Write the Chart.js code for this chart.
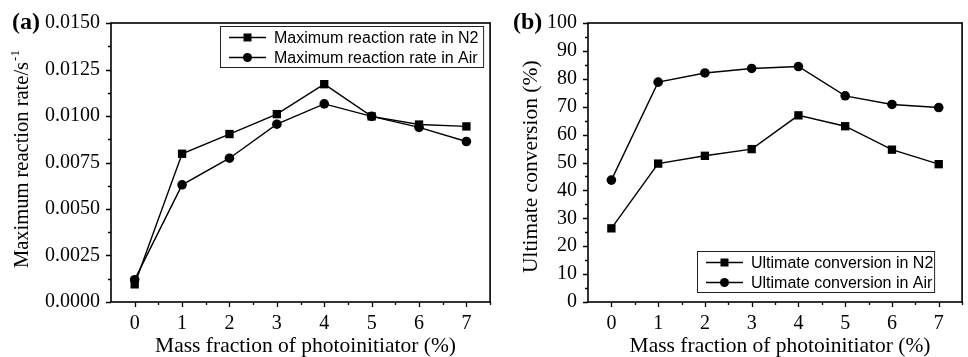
<!DOCTYPE html>
<html>
<head>
<meta charset="utf-8">
<script src="https://cdn.jsdelivr.net/npm/chart.js@4.4.1/dist/chart.umd.min.js"></script>
<style>
  body { margin: 0; background: #fff; }
  .painel { position: absolute; top: 0; }
</style>
</head>
<body>
<canvas id="graficoA" class="painel" width="496" height="357" style="left:0"></canvas>
<canvas id="graficoB" class="painel" width="472" height="357" style="left:496px"></canvas>
<script>
// valores
const fracoes = ["0", "1", "2", "3", "4", "5", "6", "7"];
const taxaN2 = [0.00095, 0.00797, 0.00903, 0.0101, 0.01171, 0.00998, 0.00954, 0.00944];
const taxaAr = [0.0012, 0.0063, 0.00773, 0.00956, 0.01065, 0.00998, 0.00939, 0.00863];
const conversaoN2 = [26.4, 49.6, 52.4, 54.8, 66.9, 63.0, 54.6, 49.4];
const conversaoAr = [43.7, 78.8, 82.1, 83.7, 84.4, 73.9, 70.8, 69.7];
const ticksTaxa = [0, 0.0025, 0.005, 0.0075, 0.01, 0.0125, 0.015];
const ticksConversao = [0, 10, 20, 30, 40, 50, 60, 70, 80, 90, 100];

const serif = '"Liberation Serif", "Times New Roman", serif';
const sans = '"Liberation Sans", Arial, sans-serif';

// desenha moldura, marcas, titulos e legenda
function decoracao(cfg) {
    return {
        id: "decoracao",
        afterDraw(chart) {
            const ctx = chart.ctx;
            const a = chart.chartArea;
            const xs = chart.scales.x;
            const ys = chart.scales.y;
            ctx.save();
            ctx.strokeStyle = "#000";
            ctx.fillStyle = "#000";

            // marcas do eixo y
            ctx.lineWidth = 1.3;
            ctx.beginPath();
            cfg.yTicks.forEach((v, i) => {
                const py = Math.round(ys.getPixelForValue(v)) + 0.5;
                ctx.moveTo(a.left, py);
                ctx.lineTo(a.left - 5, py);
                if (i < cfg.yTicks.length - 1) {
                    const pm = Math.round(ys.getPixelForValue((v + cfg.yTicks[i + 1]) / 2)) + 0.5;
                    ctx.moveTo(a.left, pm);
                    ctx.lineTo(a.left - 3, pm);
                }
            });
            // marcas do eixo x
            for (let i = 0; i < fracoes.length; i++) {
                const px = Math.round(xs.getPixelForValue(i)) + 0.5;
                ctx.moveTo(px, a.bottom);
                ctx.lineTo(px, a.bottom + 5);
                const pm = Math.round(xs.getPixelForValue(i + 0.5)) + 0.5;
                ctx.moveTo(pm, a.bottom);
                ctx.lineTo(pm, a.bottom + 3);
            }
            ctx.stroke();

            // moldura
            ctx.lineWidth = 1.6;
            ctx.strokeRect(a.left, a.top, a.right - a.left, a.bottom - a.top);

            // rotulo (a)/(b)
            ctx.font = "bold 24px " + serif;
            ctx.textAlign = "left";
            ctx.textBaseline = "alphabetic";
            ctx.fillText(cfg.rotulo, cfg.rotuloX, 29);

            // titulo x
            ctx.font = "21.5px " + serif;
            ctx.textAlign = "center";
            ctx.fillText("Mass fraction of photoinitiator (%)", (a.left + a.right) / 2 + 5, 352);

            // titulo y
            ctx.save();
            ctx.translate(cfg.tituloYX, cfg.tituloYBase);
            ctx.rotate(-Math.PI / 2);
            ctx.font = cfg.tituloYFonte + "px " + serif;
            ctx.textAlign = "left";
            ctx.fillText(cfg.tituloY, 0, 0);
            if (cfg.sobrescrito) {
                const w = ctx.measureText(cfg.tituloY).width;
                ctx.font = "13px " + serif;
                ctx.fillText(cfg.sobrescrito, w + 1, -9);
            }
            ctx.restore();

            // legenda
            const lx = a.left + 109;
            const lr = a.right - cfg.legDireita;
            const lt = cfg.legTopo(a);
            ctx.lineWidth = 1;
            ctx.strokeStyle = "#222";
            ctx.strokeRect(lx + 0.5, lt + 0.5, lr - lx, 41);
            ctx.font = "16px " + sans;
            ctx.textAlign = "left";
            ctx.textBaseline = "middle";
            chart.data.datasets.forEach((ds, i) => {
                const ry = lt + 11.5 + i * 20;
                ctx.strokeStyle = "#000";
                ctx.lineWidth = 1.3;
                ctx.beginPath();
                ctx.moveTo(lx + 9, ry);
                ctx.lineTo(lx + 46, ry);
                ctx.stroke();
                const mx = lx + 27.5;
                ctx.beginPath();
                if (ds.pointStyle === "rect") {
                    ctx.rect(mx - 4, ry - 4, 8, 8);
                } else {
                    ctx.arc(mx, ry, 4.5, 0, Math.PI * 2);
                }
                ctx.fill();
                ctx.fillText(ds.label, lx + 54, ry + 1);
            });
            ctx.restore();
        }
    };
}

function serie(rotulo, dados, estilo) {
    return {
        label: rotulo,
        data: dados,
        borderColor: "#000",
        backgroundColor: "#000",
        borderWidth: 1.4,
        pointStyle: estilo,
        pointRadius: estilo === "rect" ? 5.9 : 4.8,
        pointBorderWidth: 0,
        tension: 0
    };
}

function opcoes(yMax, yTicks, formato, padDireita, larguraY) {
    return {
        responsive: false,
        animation: false,
        devicePixelRatio: 1,
        layout: { padding: { top: 19, right: padDireita, left: 0, bottom: 0 } },
        plugins: { legend: { display: false }, tooltip: { enabled: false } },
        scales: {
            x: {
                offset: true,
                grid: { display: false, drawTicks: false },
                border: { display: false },
                ticks: { color: "#000", font: { family: serif, size: 20 }, padding: 10, maxRotation: 0 },
                afterFit: (s) => { s.height = 55; }
            },
            y: {
                min: 0,
                max: yMax,
                grid: { display: false, drawTicks: false },
                border: { display: false },
                ticks: { color: "#000", font: { family: serif, size: 20 }, padding: 11, callback: formato },
                afterBuildTicks: (s) => { s.ticks = yTicks.map(v => ({ value: v })); },
                afterFit: (s) => { s.width = larguraY; }
            }
        }
    };
}

new Chart(document.getElementById("graficoA"), {
    type: "line",
    data: {
        labels: fracoes,
        datasets: [
            serie("Maximum reaction rate in N2", taxaN2, "rect"),
            serie("Maximum reaction rate in Air", taxaAr, "circle")
        ]
    },
    options: opcoes(0.015, ticksTaxa, (v) => Number(v).toFixed(4), 5, 111),
    plugins: [decoracao({
        rotulo: "(a)", rotuloX: 12, yTicks: ticksTaxa,
        tituloY: "Maximum reaction rate/s", sobrescrito: "-1", tituloYFonte: 20.5, tituloYX: 28, tituloYBase: 268,
        legDireita: 7, legTopo: (a) => a.top + 3
    })]
});

new Chart(document.getElementById("graficoB"), {
    type: "line",
    data: {
        labels: fracoes,
        datasets: [
            serie("Ultimate conversion in N2", conversaoN2, "rect"),
            serie("Ultimate conversion in Air", conversaoAr, "circle")
        ]
    },
    options: opcoes(100, ticksConversao, (v) => String(v), 4, 92),
    plugins: [decoracao({
        rotulo: "(b)", rotuloX: 17, yTicks: ticksConversao,
        tituloY: "Ultimate conversion (%)", sobrescrito: "", tituloYFonte: 21.5, tituloYX: 41, tituloYBase: 273,
        legDireita: 28, legTopo: (a) => a.bottom - 51
    })]
});
</script>
</body>
</html>
